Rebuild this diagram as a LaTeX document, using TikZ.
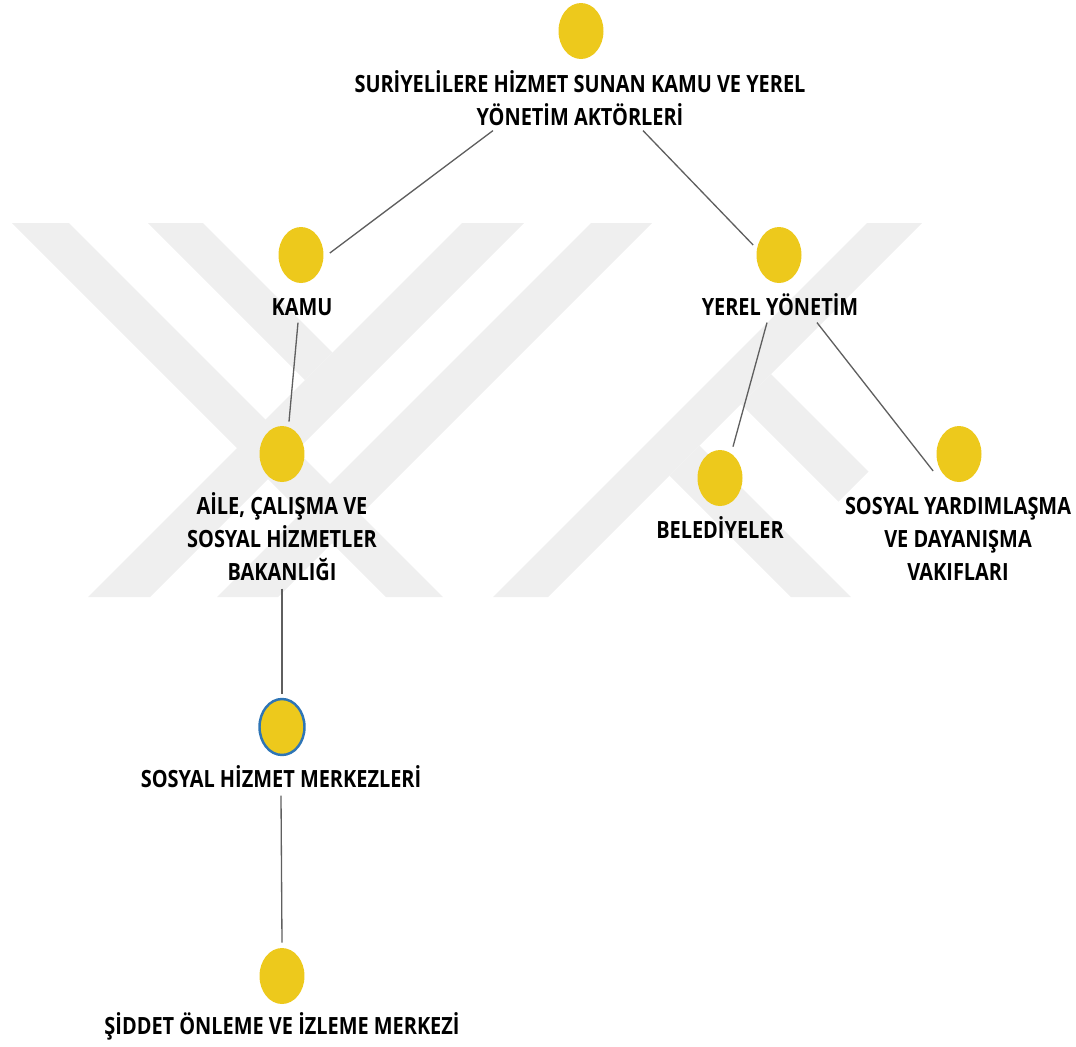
\documentclass[tikz,border=0pt]{standalone}
\usepackage{fontspec}
\setmainfont{Open Sans}[FakeStretch=0.84]
\usetikzlibrary{shapes.geometric, calc}
\definecolor{dotyellow}{RGB}{237,201,28}
\definecolor{dotblue}{RGB}{46,117,182}
\definecolor{linegray}{RGB}{95,95,95}
\definecolor{markgray}{RGB}{239,239,239}

\begin{document}
\begin{tikzpicture}[x=0.02cm, y=-0.02cm,
  dot/.style={ellipse, fill=dotyellow, inner sep=0pt, minimum width=0.9cm, minimum height=1.12cm},
  lbl/.style={font=\bfseries\fontsize{13.5}{18.6}\selectfont, align=center, inner sep=0pt},
  link/.style={draw=linegray, line width=0.75pt}]

  \useasboundingbox (0,0) rectangle (1076,1046);

  % faint watermark behind the tree
  \begin{scope}
    \clip (0,223) rectangle (1076,597);
    \fill[markgray] (12,223) -- (69,223) -- (443,597) -- (386,597) -- cycle;
    \fill[markgray] (148,223) -- (203,223) -- (332.5,352.5) -- (305,380) -- cycle;
    \fill[markgray] (462,223) -- (524,223) -- (150,597) -- (88,597) -- cycle;
    \fill[markgray] (591,223) -- (652,223) -- (278,597) -- (217,597) -- cycle;
    \fill[markgray] (867,223) -- (922,223) -- (548,597) -- (493,597) -- cycle;
    \fill[markgray] (669.5,475.5) -- (699.5,445.5) -- (851,597) -- (791,597) -- cycle;
    \fill[markgray] (741,404) -- (771,374) -- (868.5,471.5) -- (838.5,501.5) -- cycle;
  \end{scope}

  % root
  \node[dot] (root) at (581,31) {};
  \node[lbl, anchor=base] (rootL) at (580,125) {SURİYELİLERE HİZMET SUNAN KAMU VE YEREL\\YÖNETİM AKTÖRLERİ};

  % first level
  \node[dot] (kamu) at (301,255) {};
  \node[lbl, anchor=base] (kamuL) at (302,315) {KAMU};
  \node[dot] (yerel) at (779,255) {};
  \node[lbl, anchor=base] (yerelL) at (780,315) {YEREL YÖNETİM};

  % second level
  \node[dot] (aile) at (282,454) {};
  \node[lbl, anchor=base] (aileL) at (282,580) {AİLE, ÇALIŞMA VE\\SOSYAL HİZMETLER\\BAKANLIĞI};
  \node[dot] (beled) at (720,478) {};
  \node[lbl, anchor=base] (beledL) at (720,538) {BELEDİYELER};
  \node[dot] (vakif) at (959,454) {};
  \node[lbl, anchor=base] (vakifL) at (958,580) {SOSYAL YARDIMLAŞMA\\VE DAYANIŞMA\\VAKIFLARI};

  % lower levels
  \node[dot, draw=dotblue, line width=1.4pt] (shm) at (282,727) {};
  \node[lbl, anchor=base] (shmL) at (281,787) {SOSYAL HİZMET MERKEZLERİ};
  \node[dot] (siddet) at (282,976) {};
  \node[lbl, anchor=base] (siddetL) at (282,1034) {ŞİDDET ÖNLEME VE İZLEME MERKEZİ};

  % connectors
  \draw[link] ($(rootL.south)+(-87,5)$) -- ($(kamu.east)+(6,-2)$);
  \draw[link] ($(rootL.south)+(63,5)$) -- ($(yerel.west)+(-3,-10)$);
  \draw[link] ($(kamuL.south)+(-4,7)$) -- ($(aile.north)+(7,-4)$);
  \draw[link] ($(yerelL.south)+(-13,7)$) -- ($(beled.north)+(13,-3)$);
  \draw[link] ($(yerelL.south)+(37,7)$) -- ($(vakif.west)+(-3,17)$);
  \draw[link] ($(aileL.south)+(0,8)$) -- ($(shm.north)+(0,-4)$);
  \draw[link] ($(shmL.south)+(0,8)$) -- ($(siddet.north)+(0,-5)$);

\end{tikzpicture}
\end{document}
